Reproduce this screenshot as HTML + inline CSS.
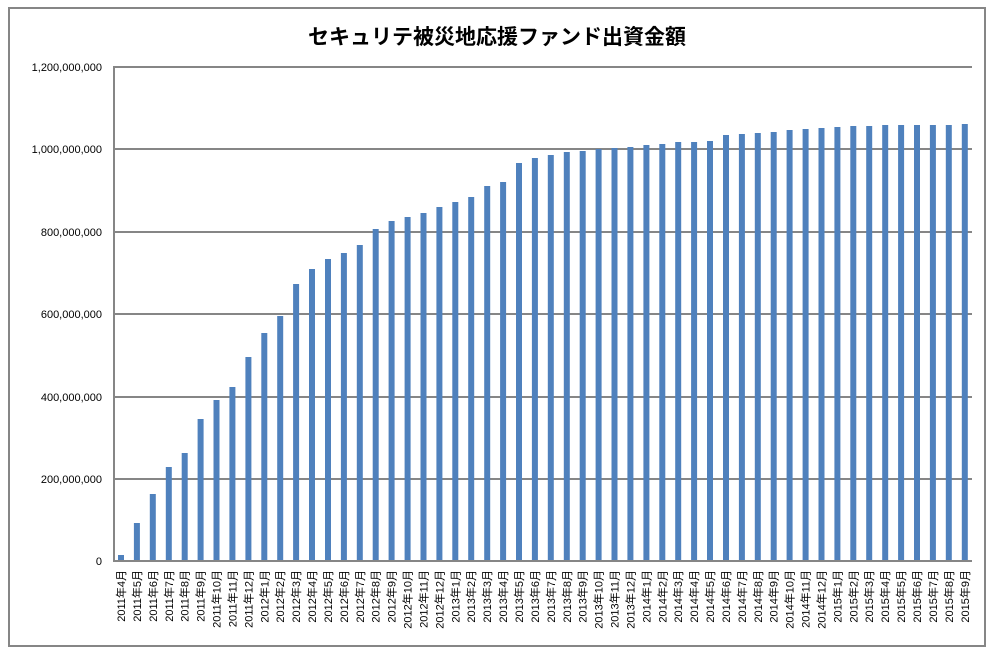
<!DOCTYPE html>
<html><head><meta charset="utf-8"><style>
html,body{margin:0;padding:0;background:#fff;width:987px;height:648px;overflow:hidden}
svg{display:block}
text{font-family:"Liberation Sans","Noto Sans CJK JP",sans-serif;fill:#000}
</style></head><body>
<svg id="c" width="987" height="648" xmlns="http://www.w3.org/2000/svg">
<rect x="0" y="0" width="987" height="648" fill="#fff"/>
<rect x="9" y="8" width="976" height="638" fill="none" stroke="#868686" stroke-width="2"/>
<text x="497" y="44" text-anchor="middle" font-size="21" font-weight="bold">セキュリテ被災地応援ファンド出資金額</text>
<g id="g"></g>
</svg>
<script>
var g=document.getElementById('g'),s='';
var ys=[[0,561],[200,479],[400,397],[600,314],[800,232],[1000,149],[1200,67]];
ys.forEach(function(p){
 if(p[0]>0) s+='<line x1="114" x2="972" y1="'+p[1]+'" y2="'+p[1]+'" stroke="#868686" stroke-width="2"/>';
 var l=p[0]==0?'0':(p[0]>=1000?(Math.floor(p[0]/1000)+','+String(p[0]%1000).padStart(3,'0')):p[0])+',000,000';
 s+='<text x="102" y="'+(p[1]+4)+'" text-anchor="end" font-size="11">'+l+'</text>';
});
var tops=[555,523,494,467,453,419,400,387,357,333,316,284,269,259,253,245,229,221,217,213,207,202,197,186,182,163,158,155,152,151,149,148,147,145,144,142,142,141,135,134,133,132,130,129,128,127,126,126,125,125,125,125,125,124];
var y=2011,m=4;
for(var i=0;i<54;i++){
 var cx=121+i*15.92;
 s+='<rect x="'+(cx-3).toFixed(1)+'" y="'+tops[i]+'" width="6" height="'+(561-tops[i])+'" fill="#4f81bd"/>';
 s+='<text transform="translate('+(cx+4).toFixed(1)+',570) rotate(-90)" text-anchor="end" font-size="11">'+y+'年'+m+'月</text>';
 m++; if(m>12){m=1;y++;}
}
s+='<line x1="114" x2="114" y1="66" y2="562" stroke="#868686" stroke-width="2"/>';
s+='<line x1="113" x2="972" y1="561" y2="561" stroke="#868686" stroke-width="2"/>';
g.innerHTML=s;
</script>
</body></html>
